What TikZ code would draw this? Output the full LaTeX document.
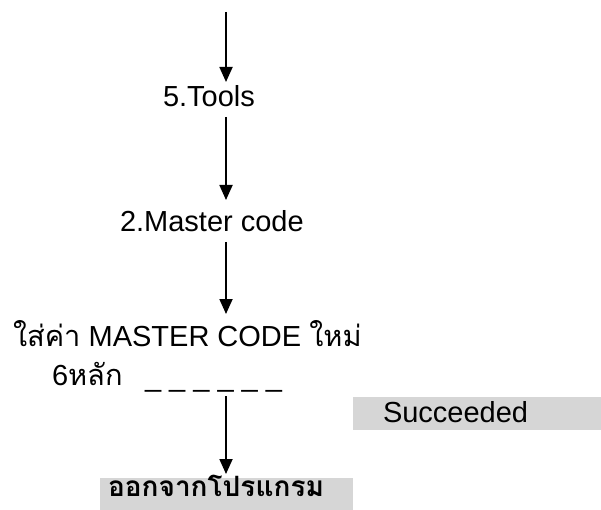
\documentclass[tikz,border=0pt]{standalone}
\usepackage{fontspec}
\setmainfont{Liberation Sans}
\newfontfamily\thai[Script=Thai]{Loma}
\usetikzlibrary{arrows.meta}

\begin{document}
\begin{tikzpicture}[x=1pt, y=-1pt,
		T/.style = {inner sep=0pt, outer sep=0pt, anchor=base west,
			text height=21pt, text depth=6pt,% same box for every line of text
			font=\fontsize{29}{34}\selectfont},
		A/.style = {-{Triangle[length=15pt, width=13pt]}, line width=1.8pt,
			shorten >=#1, shorten <=4pt},
		A/.default=4pt,
		H/.style = {fill=black!16, align=left}, % grey screen of the scan
		]
		\useasboundingbox (0,0) rectangle (601,510);
		\coordinate (ax) at (226,0);
		\coordinate (top) at (226,8);
		\node[T] (tools) at (163,107) {5.Tools};
		\node[T] (master) at (120,232) {2.Master code};
		\node[T] (setcode) at (13,346) {{\thai ใส่ค่า} MASTER CODE {\thai ใหม่}};
		\node[T] (digits) at (52,385) {6{\thai หลัก}};
		\node[T] (blank) at (145,386) {\_ \_ \_ \_ \_ \_};
		\node[T, H, inner xsep=8pt, text width=237pt, text height=18pt, text depth=15pt]
			(quit) at (100,496) {\thai\bfseries\fontsize{28}{34}\selectfont ออกจากโปรแกรม};
		\node[T, H, inner xsep=30pt, text width=218pt, text height=25pt, text depth=8pt]
			(done) at (353,422) {Succeeded};
		\foreach \a/\b/\s in {top/tools.north/4pt, tools.south/master.north/11pt,
			master.south/setcode.north/11pt, blank.south/quit.north/4pt}
		\draw[A=\s] (\a -| ax) -- (\b -| ax);
	\end{tikzpicture}
\end{document}
